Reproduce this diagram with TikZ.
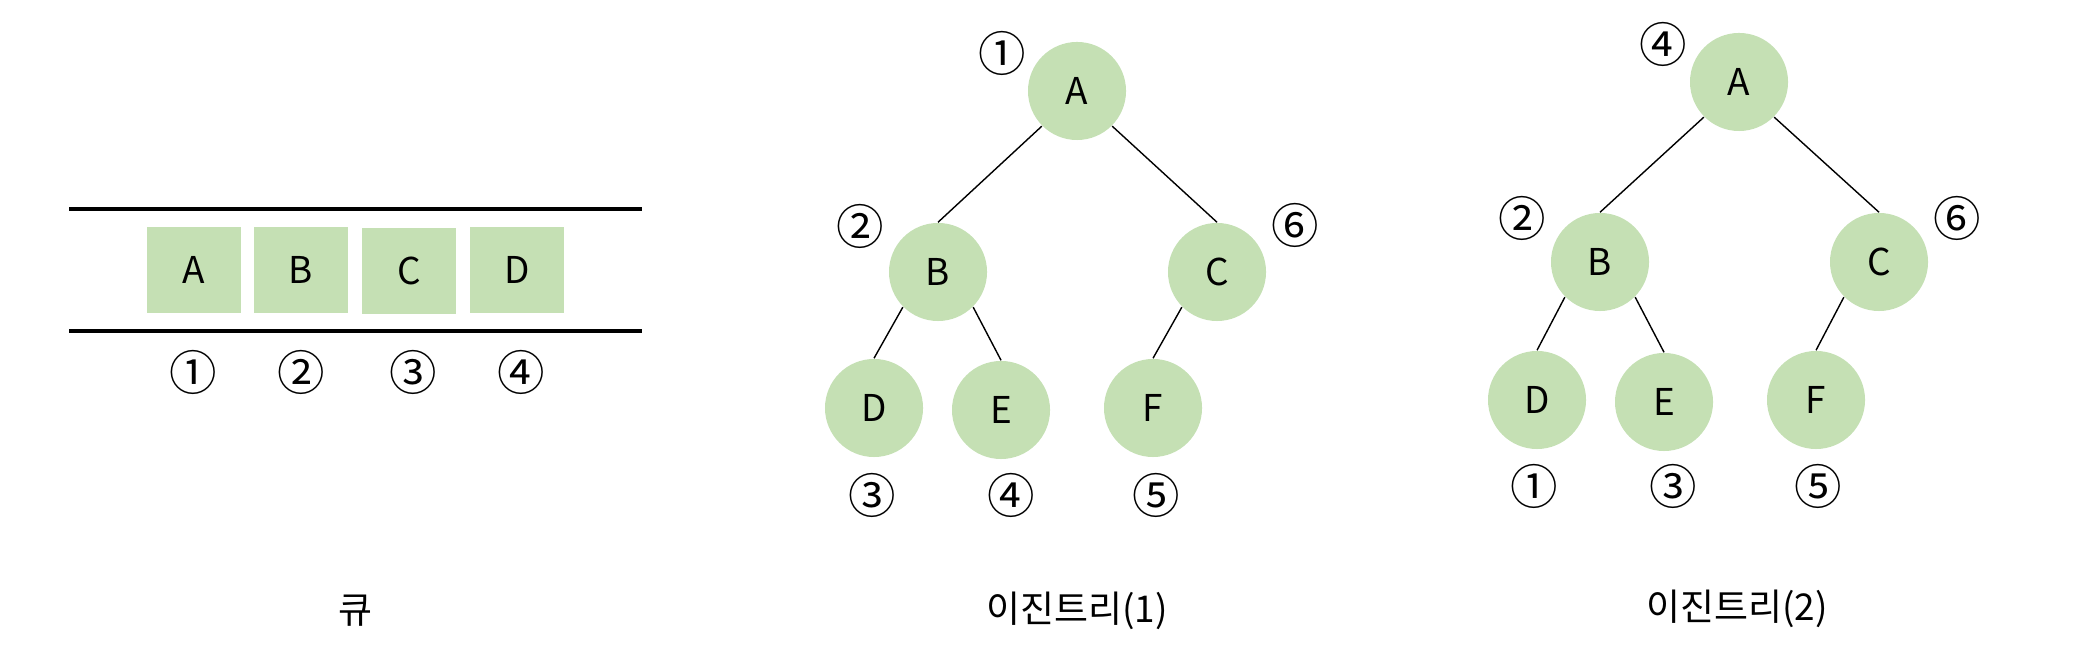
\documentclass[tikz,border=0pt]{standalone}
\usepackage{fontspec}
\setmainfont{Noto Sans CJK KR}
\usepackage{tikz}
\usetikzlibrary{positioning}
\definecolor{leaf}{HTML}{C5E0B4}

\begin{document}
\begin{tikzpicture}[x=0.01cm, y=-0.01cm,
    tnode/.style={circle, fill=leaf, minimum size=0.98cm, inner sep=0pt, font=\fontsize{10.5}{13}\selectfont},
    qbox/.style={rectangle, fill=leaf, minimum width=0.94cm, minimum height=0.85cm, inner sep=0pt, font=\fontsize{10.5}{13}\selectfont},
    num/.style={inner sep=0pt, font=\fontsize{13.5}{15}\selectfont},
    edge/.style={line width=0.4pt},
    title/.style={font=\fontsize{10.5}{13}\selectfont}]
    \useasboundingbox (0,0) rectangle (2080,659);

    % 큐
    \draw[line width=1pt] (69,209) -- (642,209);
    \draw[line width=1pt] (69,331) -- (642,331);
    \node[qbox] (qa) at (194,270) {A};
    \node[qbox] (qb) at (301,270) {B};
    \node[qbox] (qc) at (409,271) {C};
    \node[qbox] (qd) at (517,270) {D};
    \node[num] (qn1) at (193,372) {①};
    \node[num] (qn2) at (301,372) {②};
    \node[num] (qn3) at (413,372) {③};
    \node[num] (qn4) at (521,372) {④};
    \node[title] (lq) at (355,611) {큐};

    % 이진트리(1)
    \node[tnode] (a1) at (1077,91) {A};
    \node[tnode] (b1) at (938,272) {B};
    \node[tnode] (c1) at (1217,272) {C};
    \node[tnode] (d1) at (874,408) {D};
    \node[tnode] (e1) at (1001,410) {E};
    \node[tnode] (f1) at (1153,408) {F};
    \draw[edge] (a1.south west) -- (b1.north);
    \draw[edge] (a1.south east) -- (c1.north);
    \draw[edge] (b1.south west) -- (d1.north);
    \draw[edge] (b1.south east) -- (e1.north);
    \draw[edge] (c1.south west) -- (f1.north);
    \node[num] (n1a) at (1002,53) {①};
    \node[num] (n1b) at (860,226) {②};
    \node[num] (n1d) at (872,495) {③};
    \node[num] (n1e) at (1011,495) {④};
    \node[num] (n1f) at (1156,495) {⑤};
    \node[num] (n1c) at (1295,225) {⑥};
    \node[title] (lt1) at (1077,611) {이진트리(1)};

    % 이진트리(2)
    \node[tnode] (a2) at (1739,82) {A};
    \node[tnode] (b2) at (1600,262) {B};
    \node[tnode] (c2) at (1879,262) {C};
    \node[tnode] (d2) at (1537,400) {D};
    \node[tnode] (e2) at (1664,402) {E};
    \node[tnode] (f2) at (1816,400) {F};
    \draw[edge] (a2.south west) -- (b2.north);
    \draw[edge] (a2.south east) -- (c2.north);
    \draw[edge] (b2.south west) -- (d2.north);
    \draw[edge] (b2.south east) -- (e2.north);
    \draw[edge] (c2.south west) -- (f2.north);
    \node[num] (n2a) at (1663,44) {④};
    \node[num] (n2b) at (1522,218) {②};
    \node[num] (n2d) at (1534,486) {①};
    \node[num] (n2e) at (1673,486) {③};
    \node[num] (n2f) at (1818,486) {⑤};
    \node[num] (n2c) at (1957,218) {⑥};
    \node[title] (lt2) at (1737,609) {이진트리(2)};
\end{tikzpicture}
\end{document}
